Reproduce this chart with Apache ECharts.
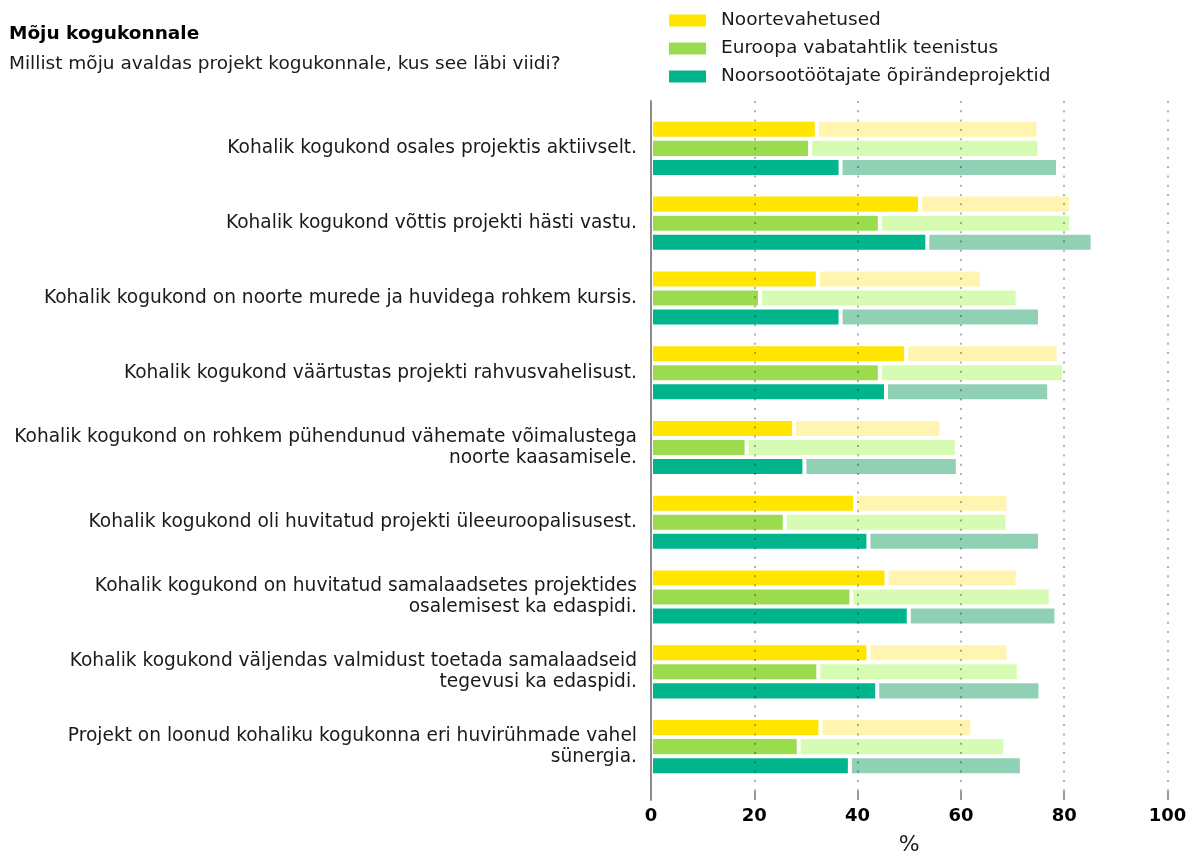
<!DOCTYPE html>
<html>
<head>
<meta charset="utf-8">
<script src="https://cdn.jsdelivr.net/npm/echarts@6/dist/echarts.min.js"></script>
<style>html,body{margin:0;padding:0;background:#fff}#c{width:1189px;height:854px}</style>
</head>
<body>
<div id="c"></div>
<script>
const categories = [
  'Kohalik kogukond osales projektis aktiivselt.',
  'Kohalik kogukond võttis projekti hästi vastu.',
  'Kohalik kogukond on noorte murede ja huvidega rohkem kursis.',
  'Kohalik kogukond väärtustas projekti rahvusvahelisust.',
  'Kohalik kogukond on rohkem pühendunud vähemate võimalustega\nnoorte kaasamisele.',
  'Kohalik kogukond oli huvitatud projekti üleeuroopalisusest.',
  'Kohalik kogukond on huvitatud samalaadsetes projektides\nosalemisest ka edaspidi.',
  'Kohalik kogukond väljendas valmidust toetada samalaadseid\ntegevusi ka edaspidi.',
  'Projekt on loonud kohaliku kogukonna eri huvirühmade vahel\nsünergia.'
];
const seriesNames = ['Noortevahetused', 'Euroopa vabatahtlik teenistus', 'Noorsootöötajate õpirändeprojektid'];
// dark part (first value) and total length of bar, in %
const yDark  = [32.1, 52.1, 32.3, 49.4, 27.7, 39.5, 45.6, 42.1, 32.8];
const yTotal = [75.0, 81.3, 64.1, 78.9, 56.2, 69.2, 71.0, 69.2, 62.2];
const gDark  = [30.8, 44.3, 21.1, 44.3, 18.5, 25.9, 38.8, 32.4, 28.6];
const gTotal = [75.2, 81.3, 71.0, 80.0, 59.2, 69.0, 77.4, 71.2, 68.6];
const tDark  = [36.7, 53.5, 36.7, 45.5, 29.7, 42.1, 49.9, 43.8, 38.5];
const tTotal = [78.8, 85.5, 75.3, 77.1, 59.4, 75.3, 78.5, 75.4, 71.8];
const xTicks = [0, 20, 40, 60, 80, 100];

const darkColors = ['#FFE500', '#9BDC4F', '#00B48B'];
const lightColors = ['#FFF4B0', '#D5FCB2', '#90D0B4'];
const darks = [yDark, gDark, tDark];
const totals = [yTotal, gTotal, tTotal];
const FONT = 'DejaVu Sans';

const series = [];
for (let s = 0; s < 3; s++) {
  series.push({
    name: seriesNames[s], type: 'bar', stack: 's' + s, xAxisIndex: 0, yAxisIndex: 0,
    data: darks[s], barGap: '0%', barCategoryGap: '23.6%',
    itemStyle: { color: darkColors[s], borderColor: '#fff', borderWidth: 2 },
    emphasis: { disabled: true }
  });
  series.push({
    name: seriesNames[s] + ' ', type: 'bar', stack: 's' + s, xAxisIndex: 0, yAxisIndex: 0,
    data: totals[s].map((t, i) => +(t - darks[s][i]).toFixed(1)),
    barGap: '0%', barCategoryGap: '23.6%',
    itemStyle: { color: lightColors[s], borderColor: '#fff', borderWidth: 2 },
    emphasis: { disabled: true }
  });
}

const chart = echarts.init(document.getElementById('c'), null, { renderer: 'canvas' });
chart.setOption({
  animation: false,
  textStyle: { fontFamily: FONT },
  title: [
    { text: 'Mõju kogukonnale', left: 9, top: 24.5, padding: 0, textStyle: { fontFamily: FONT, fontSize: 18.5, fontWeight: 'bold', color: '#000' } },
    { text: 'Millist mõju avaldas projekt kogukonnale, kus see läbi viidi?', left: 9, top: 54.5, padding: 0, textStyle: { fontFamily: FONT, fontSize: 18.5, fontWeight: 'normal', color: '#1a1a1a' } }
  ],
  legend: {
    data: seriesNames, orient: 'vertical', left: 667, top: 11, padding: 0,
    itemWidth: 39, itemHeight: 14, itemGap: 9, icon: 'rect',
    textStyle: { fontFamily: FONT, fontSize: 18.5, color: '#1a1a1a', padding: [0, 0, 0, 9] },
    selectedMode: false
  },
  grid: [
    { left: 651, right: 21.5, top: 111, bottom: 70, containLabel: false, outerBoundsMode: 'none' },
    { left: 651, right: 21.5, top: 101, bottom: 54, containLabel: false, outerBoundsMode: 'none' }
  ],
  xAxis: [
    { type: 'value', gridIndex: 0, min: 0, max: 100, interval: 20, show: false },
    { type: 'value', gridIndex: 1, min: xTicks[0], max: xTicks[xTicks.length - 1], interval: 20, z: 10,
      axisLine: { show: false },
      axisTick: { show: true, inside: true, length: 9, lineStyle: { color: '#999', width: 2 } },
      axisLabel: { margin: 7, fontFamily: FONT, fontSize: 18, fontWeight: 'bold', color: '#000' },
      splitLine: { show: true, lineStyle: { color: 'rgba(0,0,0,0.3)', width: 2, type: [2, 7.3] } },
      name: '%', nameLocation: 'middle', nameGap: 34,
      nameTextStyle: { fontFamily: FONT, fontSize: 22, color: '#1a1a1a' }
    }
  ],
  yAxis: [
    { type: 'category', gridIndex: 0, data: categories, inverse: true,
      axisLine: { show: false }, axisTick: { show: false },
      axisLabel: { margin: 14, fontFamily: FONT, fontSize: 18.6, color: '#1a1a1a', lineHeight: 21, align: 'right' }
    },
    { type: 'value', gridIndex: 1, min: 0, max: 1, z: 11,
      axisLine: { show: true, onZero: false, lineStyle: { color: '#8c8c8c', width: 2 } },
      axisTick: { show: false }, axisLabel: { show: false }, splitLine: { show: false }
    }
  ],
  series: series
});
</script>
</body>
</html>
